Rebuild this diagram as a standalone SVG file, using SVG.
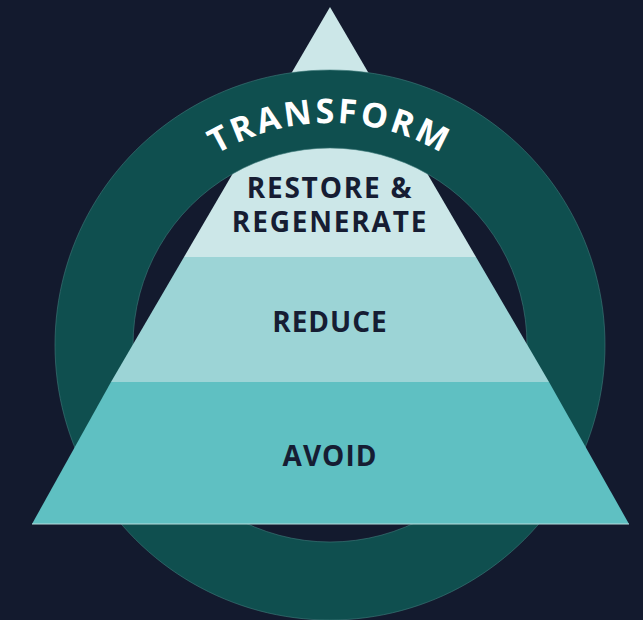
<svg xmlns="http://www.w3.org/2000/svg" width="643" height="620" viewBox="0 0 643 620">
<style>
.lbl{font-family:"Open Sans","Noto Sans",sans-serif;font-weight:700;fill:#161d33;text-anchor:middle;font-size:28px;letter-spacing:1px}
.wide{letter-spacing:1.8px}
.arc{font-family:"Open Sans","Noto Sans",sans-serif;font-weight:700;fill:#ffffff;font-size:34px;letter-spacing:3px}
</style>
<defs>
<path id="arcPath" d="M108,345 A222,222 0 0 1 552,345"/>
</defs>
<rect width="643" height="620" fill="#131a2e"/>
<g id="tier-top">
<polygon points="330,7 476,257 184,257" fill="#cce7e8"/>
</g>
<g id="ring">
<path d="M330,70 A275,275 0 1 1 329.99,70 Z M330,148 A197,197 0 1 0 330.01,148 Z" fill="#0f4f4f" fill-rule="evenodd" stroke="#3f7a7a" stroke-width="0.6"/>
<text class="arc"><textPath href="#arcPath" startOffset="50%" text-anchor="middle">TRANSFORM</textPath></text>
</g>
<g id="tier-middle">
<polygon points="184,257 476,257 549,382 111,382" fill="#9cd4d6"/>
</g>
<g id="tier-bottom">
<polygon points="111,382 549,382 629,524 32,524" fill="#5fc0c2"/>
<line x1="32" y1="524" x2="629" y2="524" stroke="#b8dcdc" stroke-width="1"/>
</g>
<g id="labels">
<text class="lbl wide" x="330" y="198">RESTORE &amp;</text>
<text class="lbl wide" x="330" y="232">REGENERATE</text>
<text class="lbl" x="330" y="332">REDUCE</text>
<text class="lbl" x="330" y="466">AVOID</text>
</g>
<g id="connectors"/>
</svg>
